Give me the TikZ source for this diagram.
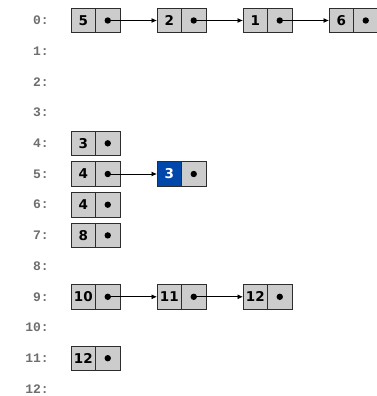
\documentclass[tikz,border=0pt]{standalone}
\usepackage{fontspec}
\setmainfont{DejaVu Sans}
\newfontfamily\labfont{Liberation Mono}
\usetikzlibrary{arrows.meta}
\definecolor{cellgray}{RGB}{204,204,204}
\definecolor{cellline}{RGB}{45,45,45}
\definecolor{cellblue}{RGB}{0,71,171}
\definecolor{labgray}{RGB}{110,110,110}
\tikzset{
  cell/.style={draw=cellline, line width=0.9pt, fill=cellgray, minimum width=24.5pt, minimum height=24.5pt,
    inner sep=0pt, outer sep=0pt, font=\fontsize{13.5}{14}\selectfont\bfseries, text=black},
  bluecell/.style={cell, fill=cellblue, text=white},
  rowlab/.style={anchor=east, inner sep=0pt, text=labgray, font=\labfont\fontsize{13}{14}\selectfont\bfseries},
  link/.style={draw=black, line width=0.8pt, -{Latex[length=5.5pt,width=5pt]}},
  dotmark/.style={fill=black}
}
% list cells: value cell v<row><col>, pointer cell p<row><col>
\newcommand{\listcell}[4][cell]{% style, row, col, value
  \node[#1] (v#2#3) at ({83.25+86*#3},{20.5+30.7*#2}) {#4};
  \node[cell] (p#2#3) at ({107.75+86*#3},{20.5+30.7*#2}) {};
  \fill[dotmark] (p#2#3.center) circle (3.2pt);
}
\begin{document}
\begin{tikzpicture}[x=1pt,y=-1pt]
\useasboundingbox (0,0) rectangle (377,396);
\clip (0,0) rectangle (377,396);
% row labels
\foreach \i in {0,...,12}{
  \node[rowlab] (lab\i) at (49,{20.5+30.7*\i}) {\i:};
}
\listcell{0}{0}{5}
\listcell{0}{1}{2}
\listcell{0}{2}{1}
\listcell{0}{3}{6}
\listcell{4}{0}{3}
\listcell{5}{0}{4}
\listcell[bluecell]{5}{1}{3}
\listcell{6}{0}{4}
\listcell{7}{0}{8}
\listcell{9}{0}{10}
\listcell{9}{1}{11}
\listcell{9}{2}{12}
\listcell{11}{0}{12}
% links
\draw[link] (p00.center) -- (v01.west);
\draw[link] (p01.center) -- (v02.west);
\draw[link] (p02.center) -- (v03.west);
\draw[link] (p50.center) -- (v51.west);
\draw[link] (p90.center) -- (v91.west);
\draw[link] (p91.center) -- (v92.west);
\end{tikzpicture}
\end{document}
